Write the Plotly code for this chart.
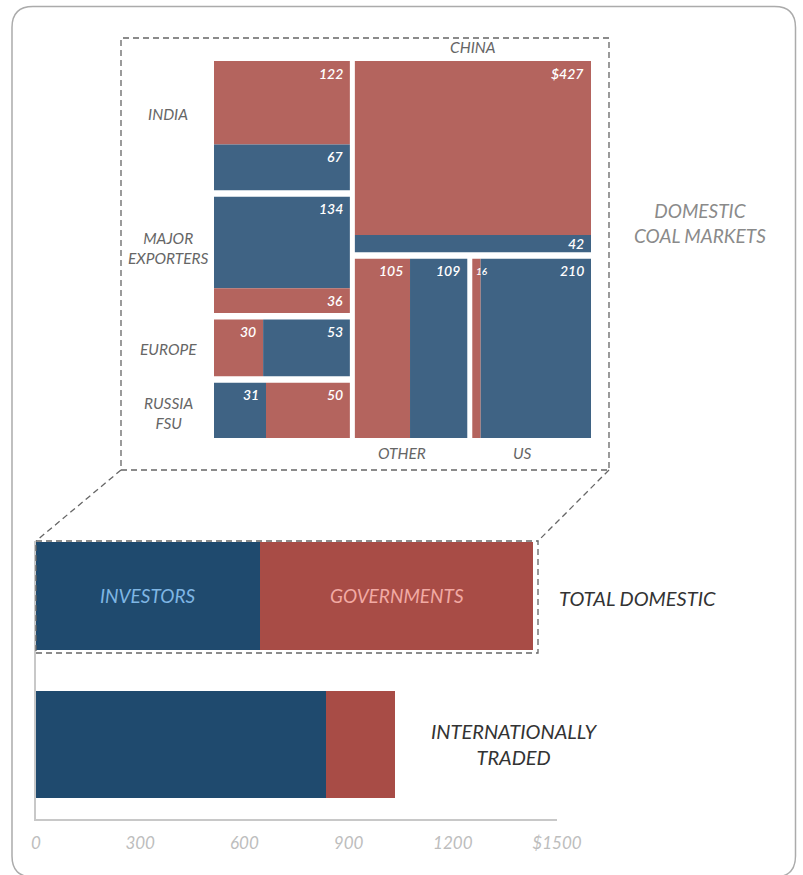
import plotly.graph_objects as go

# ---- data -------------------------------------------------------------
regions = ["INDIA", "MAJOR<br>EXPORTERS", "EUROPE", "RUSSIA<br>FSU", "CHINA", "OTHER", "US"]
gov_values = [122, 36, 30, 50, 427, 105, 16]      # governments, $bn
inv_values = [67, 134, 53, 31, 42, 109, 210]      # investors, $bn

bar_categories = ["INTERNATIONALLY<br>TRADED", "TOTAL DOMESTIC"]
intl_investors = 835
intl_governments = 200

tick_values = [0, 300, 600, 900, 1200, 1500]
tick_labels = ["0", "300", "600", "900", "1200", "$1500"]

# ---- styling ----------------------------------------------------------
W, H = 803, 875
RED_M, BLUE_M = "#b4645e", "#3f6384"
RED_B, BLUE_B = "#a84c46", "#1f4a6e"
FONT = "Lato, 'Open Sans', sans-serif"

# mosaic arrangement: left column stacks regions, right column holds
# China on top and a row of Other + US below
left_ids = [0, 1, 2, 3]
top_right_id = 4
bottom_ids = [5, 6]
# split direction and segment order inside each region
splits = [("v", ["g", "i"]), ("v", ["i", "g"]), ("h", ["g", "i"]), ("h", ["i", "g"]),
          ("v", ["g", "i"]), ("h", ["g", "i"]), ("h", ["g", "i"])]
label_yshift = [12, 7, -1, -3]

MOSAIC_PX = 377.0
GX, GY = 5 / MOSAIC_PX, 6.5 / MOSAIC_PX


def px_x(p):
    return p / W


def px_y(p):
    return 1 - p / H


totals = [g + i for g, i in zip(gov_values, inv_values)]
L = sum(totals[i] for i in left_ids)
R = sum(totals) - L
lw = (1 - GX) * L / (L + R)

boxes = {}
y = 0.0
avail = 1 - GY * (len(left_ids) - 1)
for i in left_ids:
    h = avail * totals[i] / L
    boxes[i] = (0.0, y, lw, y + h)
    y += h + GY
rx0 = lw + GX
ch = (1 - GY) * totals[top_right_id] / R
boxes[top_right_id] = (rx0, 0.0, 1.0, ch)
bw = 1 - rx0 - GX * (len(bottom_ids) - 1)
B = sum(totals[i] for i in bottom_ids)
x = rx0
for i in bottom_ids:
    w = bw * totals[i] / B
    boxes[i] = (x, ch + GY, x + w, 1.0)
    x += w + GX

fig = go.Figure()
shapes = []
annotations = []

biggest = max(gov_values + inv_values)
for idx, (x0, y0, x1, y1) in boxes.items():
    direction, order = splits[idx]
    vals = {"g": gov_values[idx], "i": inv_values[idx]}
    cols = {"g": RED_M, "i": BLUE_M}
    tot = totals[idx]
    pos = x0 if direction == "h" else y0
    for key in order:
        v = vals[key]
        if direction == "h":
            cx0, cx1 = pos, pos + (x1 - x0) * v / tot
            cy0, cy1 = y0, y1
            pos = cx1
        else:
            cy0, cy1 = pos, pos + (y1 - y0) * v / tot
            cx0, cx1 = x0, x1
            pos = cy1
        fig.add_trace(go.Scatter(
            x=[cx0, cx1, cx1, cx0, cx0], y=[cy0, cy0, cy1, cy1, cy0],
            xaxis="x2", yaxis="y2", mode="lines", fill="toself",
            fillcolor=cols[key], line=dict(width=0), hoverinfo="skip",
            showlegend=False))
        wpx = (cx1 - cx0) * MOSAIC_PX
        hpx = (cy1 - cy0) * MOSAIC_PX
        txt = ("$" if v == biggest else "") + str(v)
        if wpx < 20:
            annotations.append(dict(
                x=cx0, y=cy0, xref="x2", yref="y2", text=txt, showarrow=False,
                xanchor="left", yanchor="middle", xshift=2, yshift=-min(12, hpx / 2),
                font=dict(family=FONT, size=10, color="white", style="italic",
                          weight=600)))
        else:
            annotations.append(dict(
                x=cx1, y=cy0, xref="x2", yref="y2", text=txt, showarrow=False,
                xanchor="right", yanchor="middle", xshift=-5, yshift=-min(12, hpx / 2),
                font=dict(family=FONT, size=14, color="white", style="italic",
                          weight=600)))

# region names
region_font = dict(family=FONT, size=15.5, color="#666666", style="italic")
for k, i in enumerate(left_ids):
    x0, y0, x1, y1 = boxes[i]
    annotations.append(dict(
        x=px_x(168), y=(y0 + y1) / 2, xref="paper", yref="y2", text=regions[i],
        showarrow=False, xanchor="center", yanchor="middle", align="center",
        yshift=label_yshift[k], font=region_font))
x0, y0, x1, y1 = boxes[top_right_id]
annotations.append(dict(
    x=(x0 + x1) / 2, y=y0, xref="x2", yref="y2", text=regions[top_right_id],
    showarrow=False, xanchor="center", yanchor="bottom", yshift=3, font=region_font))
for i in bottom_ids:
    x0, y0, x1, y1 = boxes[i]
    annotations.append(dict(
        x=(x0 + x1) / 2, y=y1, xref="x2", yref="y2", text=regions[i],
        showarrow=False, xanchor="center", yanchor="top", xshift=-9, yshift=-4,
        font=region_font))

annotations.append(dict(
    x=px_x(700), y=px_y(223), xref="paper", yref="paper",
    text="DOMESTIC<br>COAL MARKETS", showarrow=False, align="center",
    xanchor="center", yanchor="middle",
    font=dict(family=FONT, size=19, color="#8a8a8a", style="italic")))

# ---- stacked totals ---------------------------------------------------
dom_investors = sum(inv_values)
dom_governments = sum(gov_values)

fig.add_trace(go.Bar(
    y=bar_categories, x=[intl_investors, dom_investors], orientation="h",
    marker=dict(color=BLUE_B, line=dict(width=0)), width=0.723,
    hoverinfo="skip", showlegend=False))
fig.add_trace(go.Bar(
    y=bar_categories, x=[intl_governments, dom_governments], orientation="h",
    marker=dict(color=RED_B, line=dict(width=0)), width=0.723,
    hoverinfo="skip", showlegend=False))

annotations.append(dict(
    x=dom_investors / 2, y=bar_categories[1], xref="x", yref="y", text="INVESTORS",
    showarrow=False, font=dict(family=FONT, size=19, color="#7fb6e4", style="italic")))
annotations.append(dict(
    x=dom_investors + dom_governments / 2, y=bar_categories[1], xref="x", yref="y",
    text="GOVERNMENTS", showarrow=False,
    font=dict(family=FONT, size=19, color="#f2aaa4", style="italic")))
annotations.append(dict(
    x=px_x(557), y=bar_categories[1], xref="paper", yref="y", text="TOTAL DOMESTIC",
    showarrow=False, xanchor="left", yshift=-2,
    font=dict(family=FONT, size=20, color="#333333", style="italic")))
annotations.append(dict(
    x=px_x(514), y=bar_categories[0], xref="paper", yref="y",
    text="INTERNATIONALLY<br>TRADED", showarrow=False, xanchor="center", align="center",
    font=dict(family=FONT, size=20, color="#333333", style="italic")))

# ---- frames and connectors -------------------------------------------
dash = dict(color="#666666", width=1.3, dash="6px,4px")
shapes.append(dict(type="rect", xref="paper", yref="paper",
                   x0=px_x(121), x1=px_x(609), y0=px_y(470), y1=px_y(38), line=dash))
shapes.append(dict(type="line", xref="paper", yref="paper",
                   x0=px_x(121), y0=px_y(470), x1=px_x(36), y1=px_y(541), line=dash))
shapes.append(dict(type="line", xref="paper", yref="paper",
                   x0=px_x(609), y0=px_y(470), x1=px_x(538), y1=px_y(541), line=dash))
shapes.append(dict(type="rect", xref="paper", yref="paper",
                   x0=px_x(36), x1=px_x(538), y0=px_y(653), y1=px_y(541), line=dash))


def rounded_path(l, t, r, b, rad):
    pts = [
        ("M", l, t + rad), ("Q", l, t, l + rad, t), ("L", r - rad, t),
        ("Q", r, t, r, t + rad), ("L", r, b - rad), ("Q", r, b, r - rad, b),
        ("L", l + rad, b), ("Q", l, b, l, b - rad),
    ]
    out = []
    for p in pts:
        cmd, coords = p[0], p[1:]
        pairs = []
        for j in range(0, len(coords), 2):
            pairs.append(f"{px_x(coords[j]):.5f},{px_y(coords[j + 1]):.5f}")
        out.append(cmd + " " + " ".join(pairs))
    return " ".join(out) + " Z"


shapes.append(dict(type="path", xref="paper", yref="paper",
                   path=rounded_path(12, 6.5, 795.5, 877, 21),
                   line=dict(color="#ababab", width=1.5), layer="below"))

AX_Y_BOTTOM, AX_Y_TOP = 819, 541
fig.update_layout(
    width=W, height=H, autosize=False,
    margin=dict(l=0, r=0, t=0, b=0, pad=0, autoexpand=False),
    paper_bgcolor="white", plot_bgcolor="rgba(0,0,0,0)",
    barmode="stack", bargap=0, showlegend=False,
    shapes=shapes, annotations=annotations,
    xaxis=dict(domain=[px_x(36), px_x(557)], range=[0, 1500], autorange=False,
               showgrid=False, zeroline=False, showline=True, linecolor="#c8c8c8",
               linewidth=2, ticks="", tickvals=tick_values, ticktext=tick_labels,
               ticklabelstandoff=8, automargin=False,
               tickfont=dict(family=FONT, size=17, color="#bdbdbd", style="italic"),
               fixedrange=True),
    yaxis=dict(domain=[px_y(AX_Y_BOTTOM), px_y(AX_Y_TOP)], range=[-0.503, 1.37],
               autorange=False, type="category", categoryorder="array",
               categoryarray=bar_categories, automargin=False,
               showgrid=False, zeroline=False, showline=True, linecolor="#c8c8c8",
               linewidth=2, showticklabels=False, ticks="", fixedrange=True),
    xaxis2=dict(domain=[px_x(214), px_x(591)], range=[0, 1], autorange=False,
                visible=False, anchor="y2", fixedrange=True),
    yaxis2=dict(domain=[px_y(438), px_y(61)], range=[1, 0], autorange=False,
                visible=False, anchor="x2", fixedrange=True),
)

fig.write_html("out.html")
